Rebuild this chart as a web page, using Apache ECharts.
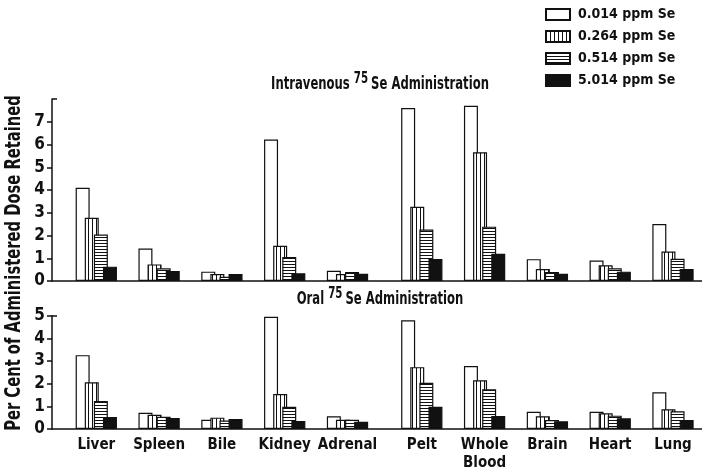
<!DOCTYPE html>
<html>
<head>
<meta charset="utf-8">
<script src="https://cdn.jsdelivr.net/npm/echarts@6/dist/echarts.min.js"></script>
<style>
  html, body { margin: 0; padding: 0; background: #fff; }
  #chart { width: 702px; height: 471px; }
</style>
</head>
<body>
<div id="chart"></div>
<script>
// Tissues and selenium levels
const tissues = ['Liver', 'Spleen', 'Bile', 'Kidney', 'Adrenal', 'Pelt', 'Whole\nBlood', 'Brain', 'Heart', 'Lung'];
const doses = ['0.014 ppm Se', '0.264 ppm Se', '0.514 ppm Se', '5.014 ppm Se'];

// Per cent of administered dose retained — intravenous 75Se
const ivSe0014 = [4.1, 1.43, 0.41, 6.22, 0.45, 7.6, 7.7, 0.96, 0.9, 2.5];
const ivSe0264 = [2.78, 0.73, 0.31, 1.55, 0.31, 3.26, 5.66, 0.53, 0.69, 1.3];
const ivSe0514 = [2.04, 0.56, 0.19, 1.05, 0.4, 2.26, 2.39, 0.4, 0.56, 0.98];
const ivSe5014 = [0.63, 0.44, 0.31, 0.34, 0.32, 0.97, 1.2, 0.32, 0.41, 0.53];

// Per cent of administered dose retained — oral 75Se
const oralSe0014 = [3.26, 0.72, 0.41, 4.95, 0.56, 4.8, 2.78, 0.76, 0.76, 1.62];
const oralSe0264 = [2.06, 0.63, 0.5, 1.54, 0.41, 2.73, 2.15, 0.56, 0.69, 0.87];
const oralSe0514 = [1.24, 0.54, 0.37, 0.98, 0.41, 2.04, 1.75, 0.4, 0.59, 0.78];
const oralSe5014 = [0.53, 0.49, 0.44, 0.35, 0.32, 0.98, 0.57, 0.34, 0.47, 0.4];

// Axis ranges and tick labels
const ivTicks = [0, 1, 2, 3, 4, 5, 6, 7];
const ivMax = 8;
const oralTicks = [0, 1, 2, 3, 4, 5];
const oralMax = 5;

const FONT = "'DejaVu Sans Condensed', 'Liberation Sans Narrow', sans-serif";
const INK = '#111';

// Hatch fills for the bars
function hatch(vertical) {
  const n = vertical ? 4 : 3;
  const c = document.createElement('canvas');
  c.width = n; c.height = n;
  const g = c.getContext('2d');
  g.fillStyle = '#fff';
  g.fillRect(0, 0, n, n);
  g.fillStyle = INK;
  if (vertical) g.fillRect(0, 0, 1, n); else g.fillRect(0, 0, n, 1);
  return { image: c, repeat: 'repeat' };
}
const fills = ['#ffffff', hatch(true), hatch(false), INK];

const panels = [
  { top: 99, height: 182, max: ivMax, ticks: ivTicks, showCats: false,
    values: [ivSe0014, ivSe0264, ivSe0514, ivSe5014] },
  { top: 315.7, height: 113.3, max: oralMax, ticks: oralTicks, showCats: true,
    values: [oralSe0014, oralSe0264, oralSe0514, oralSe5014] }
];
// The tissue groups are drawn in two blocks with a slightly wider gap between them
const blocks = [
  { left: 64.9, width: 314, from: 0, to: 5 },
  { left: 390.4, width: 314, from: 5, to: 10 }
];

const grid = [], xAxis = [], yAxis = [], series = [];
const line = { color: INK, width: 1.5 };

panels.forEach(p => {
  // frame grid: vertical value axis and baseline
  const gi = grid.length;
  grid.push({ left: 52, width: 652, top: p.top, height: p.height, outerBoundsMode: 'none' });
  xAxis.push({
    gridIndex: gi, type: 'value', min: 0, max: 1,
    axisLine: { show: true, onZero: false, lineStyle: line },
    axisTick: { show: false }, axisLabel: { show: false }, splitLine: { show: false }
  });
  yAxis.push({
    gridIndex: gi, type: 'value', min: 0, max: p.max, interval: 1, position: 'left',
    axisLine: { show: true, lineStyle: line },
    axisTick: { show: true, length: 5, lineStyle: line, customValues: p.ticks },
    axisLabel: {
      customValues: p.ticks,
      fontFamily: FONT, fontWeight: 'bold', fontSize: 17, color: INK, margin: 7
    },
    splitLine: { show: false }
  });
  // short inward cap at the top of the axis
  yAxis.push({
    gridIndex: gi, type: 'value', min: 0, max: p.max, position: 'left',
    axisLine: { show: false },
    axisTick: { show: true, inside: true, length: 5, lineStyle: line, customValues: [p.max] },
    axisLabel: { show: false }, splitLine: { show: false }
  });

  blocks.forEach(b => {
    const bi = grid.length;
    grid.push({ left: b.left, width: b.width, top: p.top, height: p.height, outerBoundsMode: 'none' });
    const xi = xAxis.length, yi = yAxis.length;
    xAxis.push({
      gridIndex: bi, type: 'category', data: tissues.slice(b.from, b.to),
      axisLine: { show: false }, axisTick: { show: false },
      axisLabel: {
        show: p.showCats, interval: 0, margin: 7, lineHeight: 18,
        fontFamily: FONT, fontWeight: 'bold', fontSize: 15, color: INK
      }
    });
    yAxis.push({ gridIndex: bi, type: 'value', min: 0, max: p.max, show: false });
    doses.forEach((d, k) => {
      series.push({
        type: 'bar', name: d, xAxisIndex: xi, yAxisIndex: yi,
        data: p.values[k].slice(b.from, b.to),
        barWidth: 14, barGap: '-35%',
        itemStyle: { color: fills[k], borderColor: INK, borderWidth: 1.2 },
        emphasis: { disabled: true }
      });
    });
  });
});

const titleRich = {
  t: { fontFamily: FONT, fontWeight: 'bold', fontSize: 17, fill: INK },
  s: { fontFamily: FONT, fontWeight: 'bold', fontSize: 15, fill: INK, padding: [0, 4, 11, 0] }
};

const chart = echarts.init(document.getElementById('chart'), null, { renderer: 'canvas' });
chart.setOption({
  animation: false,
  backgroundColor: '#fff',
  grid, xAxis, yAxis, series,
  legend: {
    orient: 'vertical', left: 545, top: 6, padding: 0, icon: 'rect',
    itemWidth: 24, itemHeight: 11, itemGap: 5, selectedMode: false,
    data: doses,
    textStyle: { fontFamily: FONT, fontWeight: 'bold', fontSize: 14, color: INK, padding: [0, 0, 0, 3], lineHeight: 17 }
  },
  graphic: [
    { type: 'text', x: 380, y: 85, scaleX: 0.76,
      style: { text: '{t|Intravenous }{s|75}{t|Se Administration}', rich: titleRich, align: 'center', verticalAlign: 'middle' } },
    { type: 'text', x: 380, y: 300, scaleX: 0.76,
      style: { text: '{t|Oral }{s|75}{t|Se Administration}', rich: titleRich, align: 'center', verticalAlign: 'middle' } },
    { type: 'text', x: 15, y: 263, rotation: Math.PI / 2, scaleX: 0.78,
      style: { text: 'Per Cent of Administered Dose Retained', fontFamily: FONT, fontWeight: 'bold', fontSize: 21,
               fill: INK, align: 'center', verticalAlign: 'middle' } }
  ]
});
</script>
</body>
</html>
